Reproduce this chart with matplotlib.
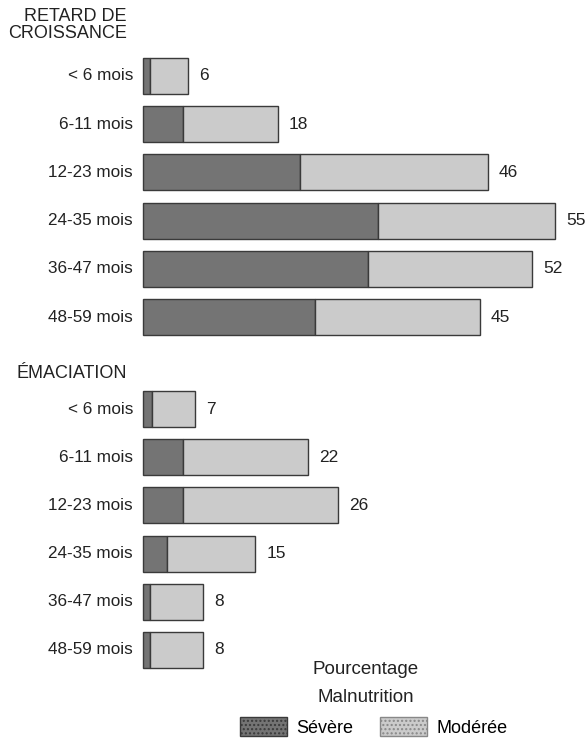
import numpy as np
import matplotlib.pyplot as plt
from matplotlib.patches import Patch

plt.rcParams['font.family'] = ['Liberation Sans', 'DejaVu Sans']

# Data (percentages)
ages = ['< 6 mois', '6-11 mois', '12-23 mois', '24-35 mois', '36-47 mois', '48-59 mois']
retard_severe = [1, 5.4, 21, 31.4, 30, 23]
retard_total = [6, 18, 46, 55, 52, 45]
emac_severe = [1.2, 5.3, 5.3, 3.2, 1, 1]
emac_total = [7, 22, 26, 15, 8, 8]

col_severe = '#747474'
col_moderee = '#cbcbcb'
col_edge = '#3a3a3a'

fig = plt.figure(figsize=(5.87, 7.40), dpi=100)
ax = fig.add_axes([0, 0, 1, 1])
# x: 0 at pixel 143, ~7.49 px per percent ; y in pixels from top
px = 7.49
ax.set_xlim(-143 / px, (587 - 143) / px)
ax.set_ylim(740, 0)
ax.axis('off')


def draw_group(y0, severe, total):
    y = y0 + 48.2 * np.arange(len(ages))
    moderee = np.array(total) - np.array(severe)
    ax.barh(y, severe, height=36, color=col_severe, edgecolor=col_edge, linewidth=1)
    ax.barh(y, moderee, left=severe, height=36, color=col_moderee,
            edgecolor=col_edge, linewidth=1)
    for yi, lab, tot in zip(y, ages, total):
        ax.text(-10 / px, yi, lab, ha='right', va='center', fontsize=12.3, color='#222222')
        ax.text(tot + 11 / px, yi, str(tot), ha='left', va='center', fontsize=12.5, color='#222222')


draw_group(76, retard_severe, retard_total)
draw_group(409, emac_severe, emac_total)

ax.text(-16 / px, 8, 'RETARD DE\nCROISSANCE', ha='right', va='top', fontsize=13,
        linespacing=1.0, color='#222222')
ax.text(-16 / px, 374, 'ÉMACIATION', ha='right', va='center', fontsize=13, color='#222222')

# legend block
xc = (366 - 143) / px
ax.text(xc, 670, 'Pourcentage', ha='center', va='center', fontsize=13.5, color='#222222')
ax.text(xc, 697, 'Malnutrition', ha='center', va='center', fontsize=13.5, color='#222222')
handles = [Patch(facecolor=col_severe, edgecolor=col_edge, hatch='....', label='Sévère'),
           Patch(facecolor=col_moderee, edgecolor='#888888', hatch='....', label='Modérée')]
fig.legend(handles=handles, loc='center', bbox_to_anchor=(0.637, 1 - 727 / 740), ncol=2,
           frameon=False, fontsize=13, handlelength=2.6, handleheight=1.2,
           columnspacing=1.5, handletextpad=0.5)

fig.savefig('out.png', dpi=100)
